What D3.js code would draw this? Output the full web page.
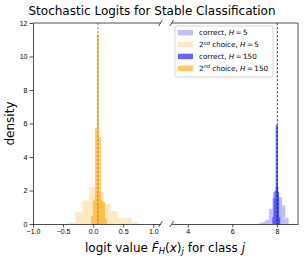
<!DOCTYPE html>
<html lang="en">
<head>
    <meta charset="UTF-8">
    <title>Stochastic Logits for Stable Classification</title>
    <script src="https://d3js.org/d3.v7.min.js"></script>
    <style>
body {
    margin: 0;
    background: #fff;
}

svg {
    display: block;
    font-family: "DejaVu Sans", sans-serif;
}

.tick text {
    font-size: 7px;
    fill: #000;
}
    </style>
</head>
<body>
    <svg id="chart" width="304" height="263"></svg>

    <script>
// histogram bin edges and densities
const h5SecondEdges = [-0.412, -0.295, -0.178, -0.062, 0.055, 0.172, 0.288, 0.405, 0.522, 0.638, 0.755];
const h5SecondDens = [0.1, 0.7, 1.4, 2.2, 1.9, 1.2, 0.77, 0.35, 0.35, 0.1];

const h150SecondEdges = [-0.033, 0.0, 0.033, 0.066, 0.099, 0.132, 0.165, 0.198, 0.231];
const h150SecondDens = [0.5, 1.4, 5.7, 11.3, 5.2, 1.4, 1.3, 0.3];

const h5CorrectEdges = [7.22, 7.365, 7.51, 7.655, 7.80, 7.945, 8.09, 8.235, 8.38, 8.525];
const h5CorrectDens = [0.08, 0.15, 0.25, 0.9, 1.55, 2.25, 1.6, 1.1, 0.36];

const h150CorrectEdges = [7.80, 7.85, 7.90, 7.95, 8.00, 8.05, 8.10, 8.15];
const h150CorrectDens = [0.4, 1.9, 2.0, 5.9, 5.9, 1.9, 0.4];

const meanSecond = 0.08;
const meanCorrect = 8.02;

const leftTicks = [-1.0, -0.5, 0.0, 0.5, 1.0];
const rightTicks = [4, 6, 8];
const yTicks = [0, 2, 4, 6, 8, 10, 12];

const legendLabels = ["correct", "2nd choice", "correct", "2nd choice"];
const legendH = [5, 5, 150, 150];

const width = 304;
const height = 263;
const plotTop = 23;
const plotBottom = 224;

const svg = d3.select("#chart");

const y = d3.scaleLinear().domain([0, 12]).range([plotBottom, plotTop]);
const xLeft = d3.scaleLinear().domain([-1, 1.12]).range([33, 160.5]);
const xRight = d3.scaleLinear().domain([3.28, 8.95]).range([171.7, 298]);

const series = [
    { edges: h5CorrectEdges, dens: h5CorrectDens, color: "blue", op: 0.25 },
    { edges: h5SecondEdges, dens: h5SecondDens, color: "orange", op: 0.25 },
    { edges: h150CorrectEdges, dens: h150CorrectDens, color: "blue", op: 0.6 },
    { edges: h150SecondEdges, dens: h150SecondDens, color: "orange", op: 0.6 }
];

const fmt = d => d3.format(".1f")(d).replace("-", "\u2212");

function drawPanel(x, id, ticks, tickFmt) {
    const [x0, x1] = x.range();
    svg.append("clipPath").attr("id", id)
        .append("rect").attr("x", x0).attr("y", plotTop).attr("width", x1 - x0).attr("height", plotBottom - plotTop);

    const g = svg.append("g").attr("clip-path", "url(#" + id + ")");
    series.forEach(s => {
        g.selectAll(null)
            .data(s.dens)
            .join("rect")
            .attr("x", (d, i) => x(s.edges[i]))
            .attr("width", (d, i) => x(s.edges[i + 1]) - x(s.edges[i]))
            .attr("y", d => y(d))
            .attr("height", d => y(0) - y(d))
            .attr("fill", s.color)
            .attr("fill-opacity", s.op);
    });

    [[meanSecond, "#a05f00"], [meanCorrect, "#00008b"]].forEach(([v, c]) => {
        g.append("line")
            .attr("x1", x(v)).attr("x2", x(v))
            .attr("y1", plotTop).attr("y2", plotBottom)
            .attr("stroke", c)
            .attr("stroke-width", 0.8)
            .attr("stroke-dasharray", "2.5,1.5");
    });

    svg.append("g")
        .attr("transform", "translate(0," + plotBottom + ")")
        .call(d3.axisBottom(x).tickValues(ticks).tickFormat(tickFmt).tickSize(3.5).tickSizeOuter(0).tickPadding(2))
        .call(a => a.select(".domain").attr("stroke", "#222").attr("stroke-width", 0.8))
        .call(a => a.selectAll(".tick line").attr("stroke", "#222").attr("stroke-width", 0.8));

    svg.append("line")
        .attr("x1", x0).attr("x2", x1).attr("y1", plotTop).attr("y2", plotTop)
        .attr("stroke", "#222").attr("stroke-width", 0.8);
}

drawPanel(xLeft, "clipL", leftTicks, fmt);
drawPanel(xRight, "clipR", rightTicks, d => d);

// left spine with y axis
svg.append("g")
    .attr("transform", "translate(" + xLeft.range()[0] + ",0)")
    .call(d3.axisLeft(y).tickValues(yTicks).tickSize(3.5).tickSizeOuter(0).tickPadding(2))
    .call(a => a.select(".domain").attr("stroke", "#222").attr("stroke-width", 0.8))
    .call(a => a.selectAll(".tick line").attr("stroke", "#222").attr("stroke-width", 0.8));

// right spine of the right panel
svg.append("line")
    .attr("x1", xRight.range()[1]).attr("x2", xRight.range()[1])
    .attr("y1", plotTop).attr("y2", plotBottom)
    .attr("stroke", "#222").attr("stroke-width", 0.8);

// break marks
[xLeft.range()[1], xRight.range()[0]].forEach(bx => {
    [plotTop, plotBottom].forEach(by => {
        svg.append("line")
            .attr("x1", bx - 1.8).attr("y1", by + 3)
            .attr("x2", bx + 1.8).attr("y2", by - 3)
            .attr("stroke", "#222").attr("stroke-width", 0.8);
    });
});

// legend
const lg = svg.append("g");
lg.append("rect")
    .attr("x", 175).attr("y", 26).attr("width", 98).attr("height", 51).attr("rx", 2)
    .attr("fill", "#fff").attr("fill-opacity", 0.8)
    .attr("stroke", "#ccc").attr("stroke-width", 0.8);

series.forEach((s, i) => {
    const ry = 32.8 + i * 11.85;
    lg.append("rect")
        .attr("x", 178).attr("y", ry - 2.8).attr("width", 15).attr("height", 5.5)
        .attr("fill", s.color).attr("fill-opacity", s.op);
    const t = lg.append("text")
        .attr("x", 199).attr("y", ry + 2.5)
        .attr("font-size", 7.2);
    if (legendLabels[i].startsWith("2nd")) {
        t.append("tspan").text("2");
        t.append("tspan").attr("dy", -2.6).attr("font-size", 5).attr("font-style", "italic").text("nd");
        t.append("tspan").attr("dy", 2.6).text(" choice, ");
    } else {
        t.append("tspan").text("correct, ");
    }
    t.append("tspan").attr("font-style", "italic").text("H");
    t.append("tspan").text("\u2009=\u2009" + legendH[i]);
});

// title and axis labels
svg.append("text")
    .attr("x", 152).attr("y", 15)
    .attr("text-anchor", "middle")
    .attr("font-size", 12)
    .text("Stochastic Logits for Stable Classification");

svg.append("text")
    .attr("transform", "translate(14," + (plotTop + plotBottom) / 2 + ") rotate(-90)")
    .attr("text-anchor", "middle")
    .attr("font-size", 12)
    .text("density");

const xl = svg.append("text")
    .attr("x", 165).attr("y", 252)
    .attr("text-anchor", "middle")
    .attr("font-size", 12);
xl.append("tspan").text("logit value ");
xl.append("tspan").attr("font-style", "italic").text("F\u0302");
xl.append("tspan").attr("font-style", "italic").attr("font-size", 8.5).attr("dy", 2).text("H");
xl.append("tspan").attr("dy", -2).text("(");
xl.append("tspan").attr("font-style", "italic").text("x");
xl.append("tspan").text(")");
xl.append("tspan").attr("font-style", "italic").attr("font-size", 8.5).attr("dy", 2).text("j");
xl.append("tspan").attr("dy", -2).text(" for class ");
xl.append("tspan").attr("font-style", "italic").text("j");
    </script>
</body>
</html>
